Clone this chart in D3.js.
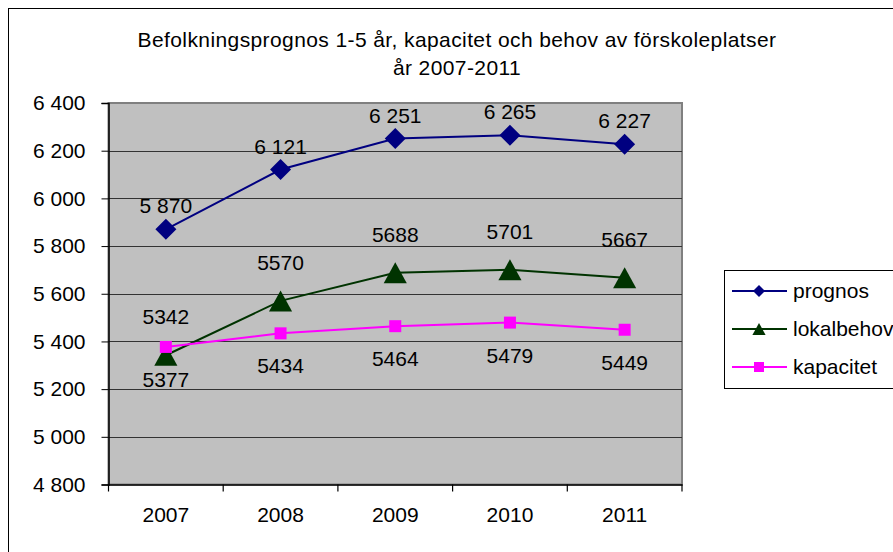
<!DOCTYPE html>
<meta charset="utf-8">
<script src="https://d3js.org/d3.v7.min.js"></script>
<style>
  body { margin: 0; background: #fff; font-family: 'Liberation Sans', Arial, sans-serif; }
</style>
<body>
<div id="chart"></div>
<script>
// data
var years = ["2007", "2008", "2009", "2010", "2011"];
var prognos = [5870, 6121, 6251, 6265, 6227];
var lokalbehov = [5342, 5570, 5688, 5701, 5667];
var kapacitet = [5377, 5434, 5464, 5479, 5449];
var yTicks = [4800, 5000, 5200, 5400, 5600, 5800, 6000, 6200, 6400];
var titleLines = ["Befolkningsprognos 1-5 år, kapacitet och behov av förskoleplatser", "år 2007-2011"];

var width = 893, height = 552;
var plot = {left: 108.5, right: 682, top: 103, bottom: 484.5};
var font = "'Liberation Sans', Arial, sans-serif";

var svg = d3.select("#chart").append("svg")
  .attr("width", width)
  .attr("height", height);

// outer frame (cut off at right and bottom)
svg.append("rect")
  .attr("x", 8.5).attr("y", 8.5)
  .attr("width", 900).attr("height", 560)
  .attr("fill", "#fff").attr("stroke", "#000").attr("stroke-width", 1);

// title
svg.append("g").selectAll("text")
  .data(titleLines)
  .enter().append("text")
    .attr("x", 457)
    .attr("y", function(d, i) { return 47 + i * 28; })
    .attr("text-anchor", "middle")
    .style("font-size", "21px")
    .style("letter-spacing", "0.4px")
    .text(function(d) { return d; });

// scales
var x = d3.scaleBand().domain(years).range([plot.left, plot.right]);
var y = d3.scaleLinear().domain([4800, 6400]).range([plot.bottom, plot.top]);
var cx = function(i) { return x(years[i]) + x.bandwidth() / 2; };

// plot background
svg.append("rect")
  .attr("x", plot.left).attr("y", plot.top)
  .attr("width", plot.right - plot.left).attr("height", plot.bottom - plot.top)
  .attr("fill", "#c0c0c0")
  .attr("stroke", "#808080").attr("stroke-width", 2);

// gridlines
svg.append("g").selectAll("line")
  .data(yTicks.slice(1, -1))
  .enter().append("line")
    .attr("x1", plot.left).attr("x2", plot.right)
    .attr("y1", function(d) { return Math.round(y(d)) + 0.5; })
    .attr("y2", function(d) { return Math.round(y(d)) + 0.5; })
    .attr("stroke", "#333").attr("stroke-width", 1.2);

// y axis
var yAxis = svg.append("g")
  .attr("transform", "translate(" + plot.left + ",0)")
  .call(d3.axisLeft(y).tickValues(yTicks).tickSize(7).tickPadding(16)
    .tickFormat(function(d) { return d3.format(",")(d).replace(",", " "); }));
yAxis.select(".domain").attr("stroke", "#000").attr("stroke-width", 1.5);
yAxis.selectAll("text").style("font-size", "21px").style("font-family", font).attr("fill", "#000");

// x axis
var xAxis = svg.append("g")
  .attr("transform", "translate(0," + plot.bottom + ")")
  .call(d3.axisBottom(x).tickSize(0).tickPadding(23));
xAxis.select(".domain").attr("stroke", "#000").attr("stroke-width", 1.5);
xAxis.selectAll("text").style("font-size", "21px").style("font-family", font).attr("fill", "#000");
xAxis.selectAll(".bound")
  .data(d3.range(years.length + 1))
  .enter().append("line")
    .attr("class", "bound")
    .attr("x1", function(i) { return plot.left + i * x.step(); })
    .attr("x2", function(i) { return plot.left + i * x.step(); })
    .attr("y1", 0).attr("y2", 7)
    .attr("stroke", "#000").attr("stroke-width", 1.2);

// marker shapes
var shapes = {
  diamond: function(s) { return "M0," + (-s) + "L" + s + ",0L0," + s + "L" + (-s) + ",0Z"; },
  triangle: function(s) { return "M0," + (-s) + "L" + (s * 1.1) + "," + s + "L" + (-s * 1.1) + "," + s + "Z"; },
  square: function(s) { return "M" + (-s) + "," + (-s) + "H" + s + "V" + s + "H" + (-s) + "Z"; }
};

var series = [
  {name: "prognos", values: prognos, color: "#000080", shape: "diamond", size: 10.5, legendSize: 6, labelDy: -16, fmt: function(v) { return d3.format(",")(v).replace(",", " "); }},
  {name: "lokalbehov", values: lokalbehov, color: "#003300", shape: "triangle", size: 10.5, legendSize: 6, labelDy: -31, fmt: String},
  {name: "kapacitet", values: kapacitet, color: "#ff00ff", shape: "square", size: 6, legendSize: 5, labelDy: 40, fmt: String}
];

var line = d3.line()
  .x(function(d, i) { return cx(i); })
  .y(function(d) { return y(d); });

series.forEach(function(s) {
  var g = svg.append("g");
  g.append("path")
    .datum(s.values)
    .attr("d", line)
    .attr("fill", "none")
    .attr("stroke", s.color)
    .attr("stroke-width", 2);
  g.selectAll(".m")
    .data(s.values)
    .enter().append("path")
      .attr("class", "m")
      .attr("transform", function(d, i) { return "translate(" + cx(i) + "," + y(d) + ")"; })
      .attr("d", shapes[s.shape](s.size))
      .attr("fill", s.color);
  g.selectAll(".lbl")
    .data(s.values)
    .enter().append("text")
      .attr("class", "lbl")
      .attr("x", function(d, i) { return cx(i); })
      .attr("y", function(d) { return y(d) + s.labelDy; })
      .attr("text-anchor", "middle")
      .style("font-size", "21px")
      .text(s.fmt);
});

// legend
var legend = svg.append("g").attr("transform", "translate(724,270)");
legend.append("rect")
  .attr("x", 0.5).attr("y", 0.5)
  .attr("width", 200).attr("height", 118)
  .attr("fill", "#fff").attr("stroke", "#000");
var items = legend.selectAll(".item")
  .data(series)
  .enter().append("g")
    .attr("class", "item")
    .attr("transform", function(d, i) { return "translate(0," + (21 + i * 38) + ")"; });
items.append("line")
  .attr("x1", 8).attr("x2", 63)
  .attr("stroke", function(d) { return d.color; })
  .attr("stroke-width", 2);
items.append("path")
  .attr("transform", "translate(35,0)")
  .attr("d", function(d) { return shapes[d.shape](d.legendSize); })
  .attr("fill", function(d) { return d.color; });
items.append("text")
  .attr("x", 69).attr("y", 7)
  .style("font-size", "21px")
  .text(function(d) { return d.name; });
</script>
</body>
